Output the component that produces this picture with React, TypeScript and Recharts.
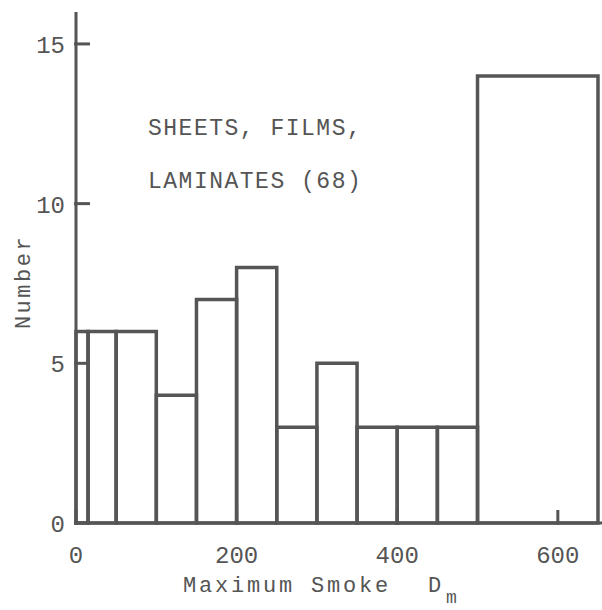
import { ComposedChart, XAxis, YAxis, ReferenceArea, Line } from 'recharts';

const binStart = [0, 15, 50, 100, 150, 200, 250, 300, 350, 400, 450, 500];
const binEnd = [15, 50, 100, 150, 200, 250, 300, 350, 400, 450, 500, 650];
const counts = [6, 6, 6, 4, 7, 8, 3, 5, 3, 3, 3, 14];
const xTicks = [0, 200, 400, 600];
const yTicks = [0, 5, 10, 15];
const noteLines = ['SHEETS, FILMS,', 'LAMINATES (68)'];
const xTitle = 'Maximum Smoke';
const yTitle = 'Number';

const data = binStart.map((s, i) => ({ start: s, end: binEnd[i], count: counts[i] }));

const INK = '#555';
const FONT = '"Liberation Mono", "DejaVu Sans Mono", monospace';

const XTick = (props: any) => {
  const { x, y, payload } = props;
  return (
    <g>
      <line x1={x} x2={x} y1={y} y2={y - 15} stroke={INK} strokeWidth={3} />
      <text x={x} y={y + 38} textAnchor="middle" fill={INK} fontSize={24} fontFamily={FONT}>
        {payload.value}
      </text>
    </g>
  );
};

const YTick = (props: any) => {
  const { x, y, payload } = props;
  return (
    <g>
      <line x1={x} x2={x + 16} y1={y} y2={y} stroke={INK} strokeWidth={3} />
      <text x={x - 9} y={y + 9} textAnchor="end" fill={INK} fontSize={24} fontFamily={FONT}>
        {payload.value}
      </text>
    </g>
  );
};

export default function App() {
  return (
    <div style={{ position: 'absolute', left: 0, top: 0, width: 602, height: 610, background: '#fff' }}>
      <ComposedChart
        width={602}
        height={610}
        data={data}
        margin={{ top: 12, right: 0, bottom: 27, left: 0 }}
      >
        <XAxis
          type="number"
          dataKey="start"
          domain={[0, 655]}
          ticks={xTicks}
          tickSize={0}
          tick={<XTick />}
          height={60}
          axisLine={{ stroke: INK, strokeWidth: 3 }}
          tickLine={false}
          allowDataOverflow
        />
        <YAxis
          type="number"
          domain={[0, 16]}
          ticks={yTicks}
          tickSize={0}
          tick={<YTick />}
          width={76}
          axisLine={{ stroke: INK, strokeWidth: 3 }}
          tickLine={false}
          allowDataOverflow
        />
        {data.map((d, i) => (
          <ReferenceArea
            key={i}
            x1={d.start}
            x2={d.end}
            y1={0}
            y2={d.count}
            fill="#fff"
            fillOpacity={0}
            stroke={INK}
            strokeWidth={3.5}
            ifOverflow="visible"
          />
        ))}
        <Line
          dataKey="count"
          stroke="none"
          dot={false}
          activeDot={false}
          isAnimationActive={false}
        />
      </ComposedChart>
      <svg
        width={602}
        height={610}
        style={{ position: 'absolute', left: 0, top: 0, pointerEvents: 'none' }}
      >
        {noteLines.map((t, i) => (
          <text
            key={i}
            x={148}
            y={135 + i * 53}
            fill={INK}
            fontSize={23}
            fontFamily={FONT}
            letterSpacing={1.5}
          >
            {t}
          </text>
        ))}
        <text x={183} y={592} fill={INK} fontSize={22} fontFamily={FONT} letterSpacing={2.8}>
          {xTitle}
        </text>
        <text x={428} y={592} fill={INK} fontSize={22} fontFamily={FONT}>
          D
        </text>
        <text x={446} y={603} fill={INK} fontSize={18} fontFamily={FONT}>
          m
        </text>
        <text
          x={30}
          y={282}
          transform="rotate(-90 30 282)"
          textAnchor="middle"
          fill={INK}
          fontSize={22}
          fontFamily={FONT}
          letterSpacing={2.5}
        >
          {yTitle}
        </text>
      </svg>
    </div>
  );
}
